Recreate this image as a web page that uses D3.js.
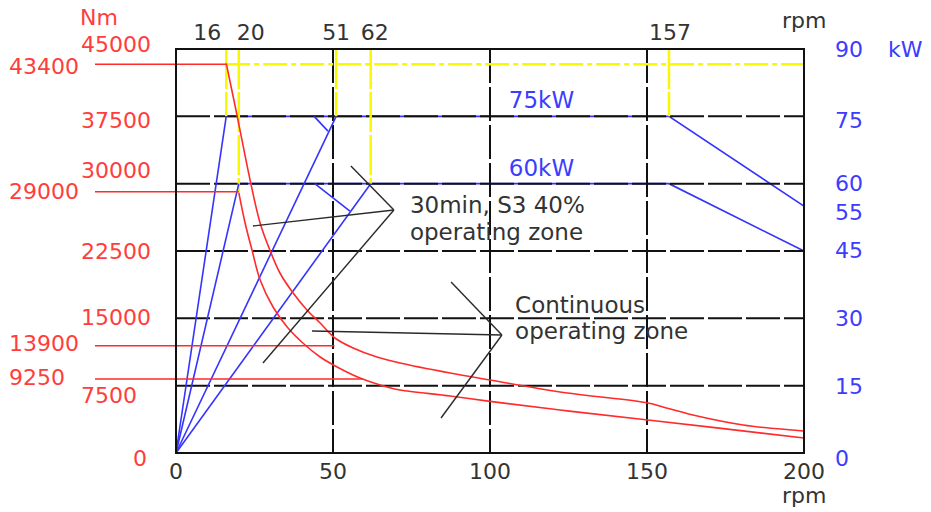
<!DOCTYPE html>
<html><head><meta charset="utf-8">
<script src="https://cdn.jsdelivr.net/npm/d3@7"></script>
<style>
html,body{margin:0;padding:0;background:#fff;}
svg{display:block;font-family:"DejaVu Sans",sans-serif;}
</style></head><body>
<svg id="c" width="931" height="512"></svg>
<script>
// ---------- data ----------
const rpmTicks = [0, 50, 100, 150, 200];
const torqueTicks = [0, 7500, 15000, 22500, 30000, 37500, 45000];
const powerTicks = [0, 15, 30, 45, 55, 60, 75, 90];
const markerRpm = [16, 20, 51, 62, 157];
const markerBottomTorque = [37500, 29100, 37500, 30000, 37500];
const ratedTorque = 43300;

const refTorqueLabels = ["43400", "29000", "13900", "9250"];
const refTorqueValues = [43300, 29100, 11950, 8250];
const refTorqueEndRpm = [16, 20, 50.5, 59.5];

// S3 40% (30 min) torque curve
const s3Rpm    = [16, 19.5, 23.6, 26.8, 29.9, 33.1, 37.3, 41.7, 45.9, 50.6, 56.4, 64.0, 71.3, 87.3, 100, 122.3, 150.3, 155.1, 164.6, 180.6, 200];
const s3Torque = [43400, 37500, 30400, 25600, 22600, 20050, 17820, 15930, 14480, 12810, 11700, 10690, 10025, 8910, 8130, 6795, 5570, 5120, 4230, 3120, 2450];
// continuous torque curve
const contRpm    = [20, 22.0, 24.2, 26.8, 30.9, 35.4, 40.4, 45.9, 51.3, 58.6, 67.2, 71.3, 87.3, 100, 122.3, 150.3, 200];
const contTorque = [29000, 25620, 22610, 19270, 16260, 14035, 12250, 10690, 9580, 8350, 7350, 7020, 6350, 5750, 4790, 3680, 1670];

// power lines (kW)
const power75Rpm = [16, 157, 200];
const power75Kw  = [75, 75, 55];
const power60Rpm = [20, 157, 200];
const power60Kw  = [60, 60, 45];
const rampRpm = [16, 20, 51, 62];
const rampKw  = [75, 60, 75, 60];
const dropStartRpm = [44, 44.2];
const dropStartKw  = [75, 60];
const dropEndRpm   = [48.4, 55.4];
const dropEndKw    = [71.7, 53.9];
const powerLabels = ["75kW", "60kW"];
const powerLabelKw = [75, 60];

// annotation leaders (rpm, Nm)
const s3Vertex = [69.4, 27070];
const s3TargetRpm = [55.7, 24.5, 27.7];
const s3TargetNm  = [31970, 25290, 10030];
const contVertex = [103.8, 13140];
const contTargetRpm = [87.6, 43.3, 84.4];
const contTargetNm  = [19050, 13590, 3900];

// ---------- layout ----------
const svg = d3.select("#c");
const x = d3.scaleLinear().domain([0, 200]).range([176, 804]);
const y = d3.scaleLinear().domain([0, 45000]).range([453, 49]);
const yk = d3.scaleLinear().domain([0, 90]).range([453, 49]);

const RED = "#ff2a2a", BLUE = "#3434ff", YEL = "#f8f800", GRID = "#111", TXT = "#333";
const RED_T = "#ff3d3d", BLUE_T = "#3c3cff";

// blue horizontal power lines (under grid)
const kwLine = d3.line().x(d => x(d[0])).y(d => yk(d[1]));
svg.append("path").attr("d", kwLine(d3.zip(power75Rpm, power75Kw)))
  .attr("fill", "none").attr("stroke", BLUE).attr("stroke-width", 1.6);
svg.append("path").attr("d", kwLine(d3.zip(power60Rpm, power60Kw)))
  .attr("fill", "none").attr("stroke", BLUE).attr("stroke-width", 1.6);

// grid
const gridH = torqueTicks.filter(v => v > 0 && v < 45000);
svg.append("g").selectAll("line").data(gridH).join("line")
  .attr("x1", x(0)).attr("x2", x(200)).attr("y1", d => y(d)).attr("y2", d => y(d))
  .attr("stroke", GRID).attr("stroke-width", 2).attr("stroke-dasharray", "34,4");
const gridV = rpmTicks.filter(v => v > 0 && v < 200);
svg.append("g").selectAll("line").data(gridV).join("line")
  .attr("x1", d => x(d)).attr("x2", d => x(d)).attr("y1", y(45000)).attr("y2", y(0))
  .attr("stroke", GRID).attr("stroke-width", 2).attr("stroke-dasharray", "34,4");

// yellow markers
svg.append("line").attr("x1", x(16)).attr("x2", x(200)).attr("y1", y(ratedTorque)).attr("y2", y(ratedTorque))
  .attr("stroke", YEL).attr("stroke-width", 2.5).attr("stroke-dasharray", "24,4,5,4");
svg.append("g").selectAll("line").data(markerRpm).join("line")
  .attr("x1", d => x(d)).attr("x2", d => x(d))
  .attr("y1", y(45000)).attr("y2", (d, i) => y(markerBottomTorque[i]))
  .attr("stroke", YEL).attr("stroke-width", 2.5).attr("stroke-dasharray", "40,3");

// blue ramps from origin
svg.append("g").selectAll("line").data(rampRpm).join("line")
  .attr("x1", x(0)).attr("y1", yk(0))
  .attr("x2", d => x(d)).attr("y2", (d, i) => yk(rampKw[i]))
  .attr("stroke", BLUE).attr("stroke-width", 1.6);
svg.append("g").selectAll("line").data(dropStartRpm).join("line")
  .attr("x1", d => x(d)).attr("y1", (d, i) => yk(dropStartKw[i]))
  .attr("x2", (d, i) => x(dropEndRpm[i])).attr("y2", (d, i) => yk(dropEndKw[i]))
  .attr("stroke", BLUE).attr("stroke-width", 1.6);

// red reference lines
svg.append("g").selectAll("line").data(refTorqueValues).join("line")
  .attr("x1", x(0) - 81).attr("x2", (d, i) => x(refTorqueEndRpm[i]))
  .attr("y1", d => y(d)).attr("y2", d => y(d))
  .attr("stroke", RED).attr("stroke-width", 1.6);

// red torque curves
const tLine = d3.line().x(d => x(d[0])).y(d => y(d[1])).curve(d3.curveCatmullRom.alpha(0.5));
svg.append("path").attr("d", tLine(d3.zip(s3Rpm, s3Torque)))
  .attr("fill", "none").attr("stroke", RED).attr("stroke-width", 1.6);
svg.append("path").attr("d", tLine(d3.zip(contRpm, contTorque)))
  .attr("fill", "none").attr("stroke", RED).attr("stroke-width", 1.6);

// annotation leaders
function leaders(v, tr, tn) {
  svg.append("g").selectAll("line").data(tr).join("line")
    .attr("x1", x(v[0])).attr("y1", y(v[1]))
    .attr("x2", d => x(d)).attr("y2", (d, i) => y(tn[i]))
    .attr("stroke", "#2a2a2a").attr("stroke-width", 1.4);
}
leaders(s3Vertex, s3TargetRpm, s3TargetNm);
leaders(contVertex, contTargetRpm, contTargetNm);

// frame
svg.append("rect").attr("x", x(0)).attr("y", y(45000))
  .attr("width", x(200) - x(0)).attr("height", y(0) - y(45000))
  .attr("fill", "none").attr("stroke", GRID).attr("stroke-width", 2);

// ---------- text ----------
const fs = 22;
// bottom rpm axis
svg.append("g").selectAll("text").data(rpmTicks).join("text")
  .attr("x", d => x(d)).attr("y", 479).attr("text-anchor", "middle")
  .attr("font-size", fs).attr("fill", TXT).text(d => d);
svg.append("text").attr("x", x(200) - 22).attr("y", 503).attr("font-size", fs).attr("fill", TXT).text("rpm");

// top marker labels
const topDx = [-5, -2, 0, 4, 1];
const topAnchor = ["end", "start", "middle", "middle", "middle"];
svg.append("g").selectAll("text").data(markerRpm).join("text")
  .attr("x", (d, i) => x(d) + topDx[i]).attr("y", 40).attr("text-anchor", (d, i) => topAnchor[i])
  .attr("font-size", fs).attr("fill", TXT).text(d => d);
svg.append("text").attr("x", x(200) - 22).attr("y", 28).attr("font-size", fs).attr("fill", TXT).text("rpm");

// left torque axis
const tDy = {0: 13, 7500: 17, 15000: 7, 22500: 8, 30000: -6, 37500: 12, 45000: 3};
svg.append("g").selectAll("text").data(torqueTicks).join("text")
  .attr("x", d => d === 0 ? 133 : x(0) - 95).attr("y", d => y(d) + tDy[d])
  .attr("font-size", fs).attr("fill", RED_T).text(d => d);
svg.append("text").attr("x", x(0) - 96).attr("y", 25).attr("font-size", fs).attr("fill", RED_T).text("Nm");
const rDy = [10, 7, 5, 6];
svg.append("g").selectAll("text").data(refTorqueLabels).join("text")
  .attr("x", x(0) - 167).attr("y", (d, i) => y(refTorqueValues[i]) + rDy[i])
  .attr("font-size", fs).attr("fill", RED_T).text(d => d);

// right power axis
const kDy = {0: 13, 15: 8, 30: 8, 45: 7, 55: 14, 60: 7, 75: 12, 90: 8};
svg.append("g").selectAll("text").data(powerTicks).join("text")
  .attr("x", x(200) + 31).attr("y", d => yk(d) + kDy[d])
  .attr("font-size", fs).attr("fill", BLUE_T).text(d => d);
svg.append("text").attr("x", x(200) + 84).attr("y", 57).attr("font-size", fs).attr("fill", BLUE_T).text("kW");

// power labels in plot
svg.append("g").selectAll("text").data(powerLabels).join("text")
  .attr("x", x(106)).attr("y", (d, i) => yk(powerLabelKw[i]) - 8)
  .attr("font-size", 23).attr("fill", BLUE_T).text(d => d);

// zone labels
const zoneFs = 23;
svg.append("text").attr("x", x(74.5)).attr("y", 213).attr("font-size", zoneFs).attr("fill", TXT).text("30min, S3 40%");
svg.append("text").attr("x", x(74.5)).attr("y", 240).attr("font-size", zoneFs).attr("fill", TXT).text("operating zone");
svg.append("text").attr("x", x(108)).attr("y", 313).attr("font-size", zoneFs).attr("fill", TXT).text("Continuous");
svg.append("text").attr("x", x(108)).attr("y", 339).attr("font-size", zoneFs).attr("fill", TXT).text("operating zone");
</script>
</body></html>
